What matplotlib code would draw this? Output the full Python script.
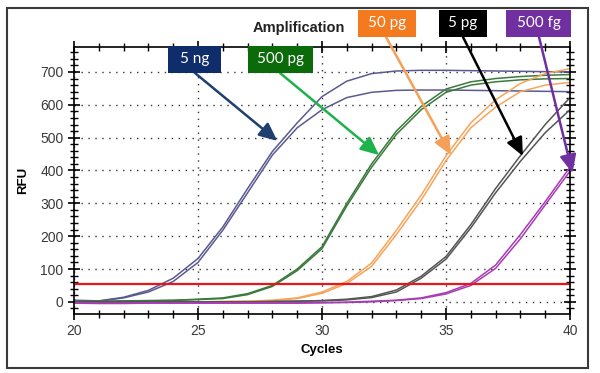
import numpy as np
import matplotlib
matplotlib.use("Agg")
import matplotlib.pyplot as plt
from matplotlib.patches import Rectangle

plt.rcParams['font.family'] = ['Liberation Sans', 'DejaVu Sans']

# 数据：每个循环的荧光值（RFU）
cycles = np.arange(20, 41)
ng5_a = [5, 3, 14, 35, 72, 132, 228, 345, 458, 545, 625, 672, 695, 703, 705, 705, 704, 703, 702, 701, 700]
ng5_b = [3, 2, 12, 30, 62, 120, 218, 332, 447, 530, 585, 622, 638, 644, 645, 645, 644, 643, 642, 641, 640]
pg500_a = [2, 2, 3, 4, 5, 8, 12, 25, 50, 100, 168, 300, 420, 520, 595, 648, 670, 680, 686, 690, 692]
pg500_b = [1, 1, 2, 3, 4, 7, 10, 22, 47, 95, 162, 292, 410, 510, 585, 638, 660, 670, 676, 679, 680]
pg50_a = [0, 0, 0, 0, 0, 0, 1, 2, 5, 12, 30, 62, 118, 218, 325, 445, 545, 615, 665, 695, 710]
pg50_b = [0, 0, 0, 0, 0, 0, 1, 2, 4, 10, 26, 56, 108, 205, 310, 430, 530, 593, 640, 660, 668]
pg5_a = [0, 0, 0, 0, 0, 0, 0, 0, 1, 2, 4, 8, 16, 36, 78, 138, 235, 345, 445, 540, 622]
pg5_b = [0, 0, 0, 0, 0, 0, 0, 0, 1, 2, 3, 6, 13, 30, 72, 130, 225, 332, 428, 515, 585]
fg500_a = [-3, -4, -4, -3, -3, -3, -3, -3, -3, -3, -2, -1, 2, 5, 12, 28, 56, 112, 205, 305, 410]
fg500_b = [-4, -5, -5, -4, -4, -4, -4, -4, -4, -4, -3, -2, 0, 4, 10, 24, 50, 102, 192, 295, 398]
threshold = 55

series = [
    (ng5_a, ng5_b, '#5a5a90'),
    (pg500_a, pg500_b, '#3b7a3b'),
    (pg50_a, pg50_b, '#f5a55a'),
    (pg5_a, pg5_b, '#555555'),
    (fg500_a, fg500_b, '#a83cb4'),
]

# 标签：文字、底色、箭头颜色、方框(像素: x0, y0, x1, y1)、箭头起点(像素)、箭头终点(数据)
labels = ['5 ng', '500 pg', '50 pg', '5 pg', '500 fg']
box_colors = ['#0f2d6b', '#0b6b0b', '#f47a20', '#000000', '#7030a0']
arrow_colors = ['#1f3f70', '#1db34a', '#f5a05a', '#000000', '#7030a0']
boxes = [(168, 46, 221, 73), (248, 46, 313, 73), (358, 10, 416, 37),
         (439, 10, 487, 37), (506, 10, 571, 37)]
arrow_from = [(195, 73), (280, 73), (386, 37), (463, 37), (539, 37)]
arrow_to = [(28.2, 490), (32.3, 447), (35.2, 447), (38.1, 444), (40.1, 392)]

W, H = 600, 373
fig = plt.figure(figsize=(6, 3.73), dpi=100)
ax = fig.add_axes([74 / W, 1 - 314 / H, 496 / W, 267 / H])

for a, b, c in series:
    ax.plot(cycles, a, color=c, lw=1.1)
    ax.plot(cycles, b, color=c, lw=1.1)
ax.axhline(threshold, color='#e8161b', lw=1.6)

ax.set_xlim(20, 40)
ax.set_ylim(-37, 776)
ax.set_xticks(range(20, 41, 5))
ax.set_xticks(range(20, 41), minor=True)
ax.set_yticks(range(0, 701, 100))
ax.set_yticks(range(-20, 761, 20), minor=True)
ax.tick_params(which='both', direction='inout', color='black', labelsize=10,
               labelcolor='#3a3a3a', top=True, right=True)
ax.tick_params(which='major', length=8, width=1.2)
ax.tick_params(which='minor', length=6, width=1.0)
ax.grid(True, which='major', color='#333333', linestyle=(0, (1, 4)), lw=1.0)
for s in ax.spines.values():
    s.set_linewidth(1.2)

ax.set_xlabel('Cycles', fontweight='bold', fontsize=9.5, labelpad=4)
ax.set_ylabel('RFU', fontweight='bold', fontsize=9.5, labelpad=8)
fig.text(299 / W, 1 - 28 / H, 'Amplification', ha='center', va='center',
         fontweight='bold', fontsize=10.5, color='#222222')

# 标注方框和箭头
for lab, bc, ac, (x0, y0, x1, y1), (sx, sy), tip in zip(
        labels, box_colors, arrow_colors, boxes, arrow_from, arrow_to):
    ax.annotate('', xy=tip, xycoords='data', xytext=(sx, H - sy),
                textcoords='figure pixels', annotation_clip=False,
                arrowprops=dict(arrowstyle='-|>,head_width=0.5,head_length=1.1',
                                color=ac, lw=1.8, shrinkA=0, shrinkB=0))
    fig.patches.append(Rectangle((x0 / W, 1 - y1 / H), (x1 - x0) / W, (y1 - y0) / H,
                                 transform=fig.transFigure, facecolor=bc,
                                 edgecolor='none', zorder=5))
    fig.text((x0 + x1) / 2 / W, 1 - (y0 + y1) / 2 / H, lab, ha='center', va='center',
             color='white', fontsize=11, family=['Lato', 'DejaVu Sans'], zorder=6)

# 外框
fig.patches.append(Rectangle((7 / W, 1 - 368 / H), 581 / W, 360 / H,
                             transform=fig.transFigure, fill=False,
                             edgecolor='#3a3a3a', lw=1.5))

fig.savefig('out.png', dpi=100)
